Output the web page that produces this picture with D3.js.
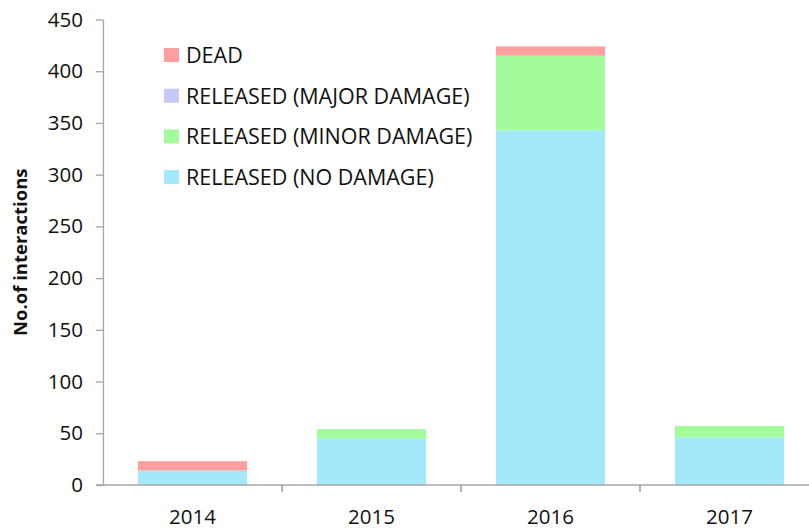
<!DOCTYPE html>
<html>
<head>
<meta charset="utf-8">
<script src="https://cdn.jsdelivr.net/npm/d3@7"></script>
<style>
  html, body { margin: 0; padding: 0; background: #fff; }
  svg { display: block; }
  text { font-family: "Open Sans", "Liberation Sans", sans-serif; fill: #111; }
</style>
</head>
<body>
<svg id="chart" width="809" height="529"></svg>
<script>
// ---- data ----
const years = ["2014", "2015", "2016", "2017"];
const seriesNames = ["RELEASED (NO DAMAGE)", "RELEASED (MINOR DAMAGE)", "RELEASED (MAJOR DAMAGE)", "DEAD"];
const noDamage    = [14, 45, 343, 46];
const minorDamage = [0, 9, 72, 11];
const majorDamage = [0, 0, 0, 0];
const dead        = [9, 0, 9, 0];
const yTicks = [0, 50, 100, 150, 200, 250, 300, 350, 400, 450];
const colors = ["#a3e9fb", "#a3fb9c", "#c8c8f8", "#ff9e9e"];
const legendOrder = ["DEAD", "RELEASED (MAJOR DAMAGE)", "RELEASED (MINOR DAMAGE)", "RELEASED (NO DAMAGE)"];

const table = years.map((y, i) => ({
  year: y,
  "RELEASED (NO DAMAGE)": noDamage[i],
  "RELEASED (MINOR DAMAGE)": minorDamage[i],
  "RELEASED (MAJOR DAMAGE)": majorDamage[i],
  "DEAD": dead[i]
}));

const svg = d3.select("#chart");
const x0 = 103, x1 = 819, yBottom = 485, yTop = 19.5;

const x = d3.scaleBand().domain(years).range([x0, x1]).paddingInner(0.39).paddingOuter(0.195);
const y = d3.scaleLinear().domain([0, 450]).range([yBottom, yTop]);
const color = d3.scaleOrdinal().domain(seriesNames).range(colors);

const stack = d3.stack().keys(seriesNames)(table);

// bars
svg.append("g").selectAll("g").data(stack).join("g")
  .attr("fill", d => color(d.key))
  .selectAll("rect").data(d => d).join("rect")
  .attr("x", d => x(d.data.year))
  .attr("width", x.bandwidth())
  .attr("y", d => y(d[1]))
  .attr("height", d => y(d[0]) - y(d[1]));

// y axis
const yAxis = svg.append("g").attr("transform", `translate(${x0},0)`)
  .call(d3.axisLeft(y).tickValues(yTicks).tickSize(7).tickPadding(13).tickSizeOuter(0));
yAxis.select(".domain").attr("stroke", "#a6a6a6").attr("stroke-width", 1.3);
yAxis.selectAll(".tick line").attr("stroke", "#a6a6a6").attr("stroke-width", 1.3);
yAxis.selectAll(".tick text").style("font-size", "20.5px").attr("fill", "#111");

// x axis: ticks between categories
const xAxisG = svg.append("g").attr("transform", `translate(0,${yBottom})`);
xAxisG.append("line").attr("x1", x0 - 7).attr("x2", 809).attr("y1", 0).attr("y2", 0)
  .attr("stroke", "#a6a6a6").attr("stroke-width", 1.3);
const step = x.step();
const boundaries = years.slice(1).map(yr => x(yr) - (step - x.bandwidth()) / 2);
xAxisG.selectAll("line.b").data(boundaries).join("line").attr("class", "b")
  .attr("x1", d => d).attr("x2", d => d).attr("y1", 0).attr("y2", 7)
  .attr("stroke", "#8c8c8c").attr("stroke-width", 1.3);
xAxisG.selectAll("text").data(years).join("text")
  .attr("x", d => x(d) + x.bandwidth() / 2)
  .attr("y", 39)
  .attr("text-anchor", "middle")
  .style("font-size", "20.5px")
  .text(d => d);

// y axis title
svg.append("text")
  .attr("transform", `translate(27,${(yTop + yBottom) / 2}) rotate(-90)`)
  .attr("text-anchor", "middle")
  .style("font-size", "18.5px")
  .style("font-weight", "bold")
  .text("No.of interactions");

// legend
const legend = svg.append("g").attr("transform", "translate(164,48)");
const li = legend.selectAll("g").data(legendOrder).join("g")
  .attr("transform", (d, i) => `translate(0,${i * 40.7})`);
li.append("rect").attr("width", 15).attr("height", 14).attr("fill", d => color(d));
li.append("text").attr("x", 22).attr("y", 15).style("font-size", "21.5px").text(d => d);
</script>
</body>
</html>
